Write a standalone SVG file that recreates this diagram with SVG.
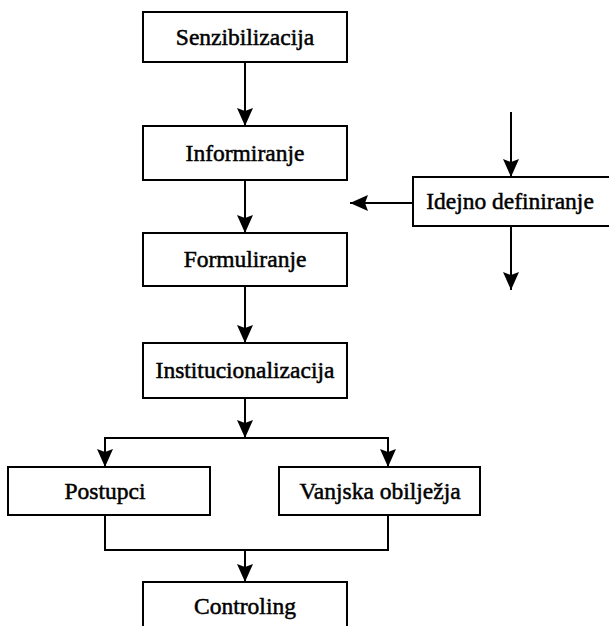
<svg xmlns="http://www.w3.org/2000/svg" width="609" height="626" viewBox="0 0 609 626">
<style>
.box{fill:#fff;stroke:#000;stroke-width:2}
.t{font-family:"Liberation Serif","Times New Roman",serif;font-size:23.5px;fill:#000;text-anchor:middle;stroke:#000;stroke-width:0.5}
.c{fill:none;stroke:#000;stroke-width:2}
</style>
<defs>
<marker id="ah" viewBox="0 0 18 16" refX="18" refY="8" markerWidth="18" markerHeight="16" markerUnits="userSpaceOnUse" orient="auto">
<path d="M0,0 L18,8 L0,16 L3,8 z" fill="#000"/>
</marker>
</defs>
<rect width="609" height="626" fill="#fff"/>
<g id="connectors">
<line class="c" x1="245" y1="62" x2="245" y2="126" marker-end="url(#ah)"/>
<line class="c" x1="245" y1="180" x2="245" y2="233" marker-end="url(#ah)"/>
<line class="c" x1="245" y1="286" x2="245" y2="343" marker-end="url(#ah)"/>
<line class="c" x1="245" y1="398" x2="245" y2="438" marker-end="url(#ah)"/>
<polyline class="c" points="105,450 105,438 388,438 388,450"/>
<line class="c" x1="105" y1="439" x2="105" y2="467" marker-end="url(#ah)"/>
<line class="c" x1="388" y1="439" x2="388" y2="467" marker-end="url(#ah)"/>
<polyline class="c" points="105,515 105,550 388,550 388,515"/>
<line class="c" x1="245" y1="550" x2="245" y2="582" marker-end="url(#ah)"/>
<line class="c" x1="511" y1="112" x2="511" y2="177" marker-end="url(#ah)"/>
<line class="c" x1="413" y1="203" x2="350" y2="203" marker-end="url(#ah)"/>
<line class="c" x1="511" y1="226" x2="511" y2="290" marker-end="url(#ah)"/>
</g>
<g id="senzibilizacija"><rect class="box" x="143" y="12" width="204" height="50"/><text class="t" x="245" y="45">Senzibilizacija</text></g>
<g id="informiranje"><rect class="box" x="143" y="126" width="204" height="54"/><text class="t" x="245" y="161">Informiranje</text></g>
<g id="formuliranje"><rect class="box" x="143" y="233" width="204" height="53"/><text class="t" x="245" y="267">Formuliranje</text></g>
<g id="institucionalizacija"><rect class="box" x="143" y="343" width="204" height="55"/><text class="t" x="245" y="378">Institucionalizacija</text></g>
<g id="postupci"><rect class="box" x="8" y="467" width="202" height="48"/><text class="t" x="105" y="499">Postupci</text></g>
<g id="vanjska"><rect class="box" x="279" y="467" width="201" height="48"/><text class="t" x="380" y="499">Vanjska obilježja</text></g>
<g id="controling"><rect class="box" x="143" y="582" width="204" height="50"/><text class="t" x="245" y="614">Controling</text></g>
<g id="idejno"><rect class="box" x="413" y="177" width="200" height="49"/><text class="t" x="510" y="209">Idejno definiranje</text></g>
</svg>
